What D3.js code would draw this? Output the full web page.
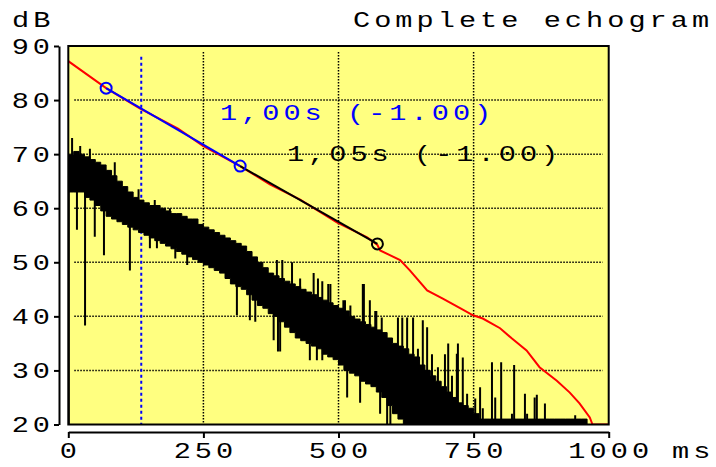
<!DOCTYPE html>
<html><head><meta charset="utf-8">
<script src="https://cdn.jsdelivr.net/npm/d3@7"></script>
<style>html,body{margin:0;padding:0;background:#fff;}svg{display:block;}</style>
</head><body>
<svg id="c" width="716" height="467"></svg>
<script>
// ---------- data ----------
const xTicks = [0, 250, 500, 750, 1000];
const yTicks = [20, 30, 40, 50, 60, 70, 80, 90];
const gridX = [250, 500, 750];
const gridY = [30, 40, 50, 60, 70, 80];
const title = "Complete echogram";
const yUnit = "dB";
const xUnit = "ms";
// echogram: dense band per 10 ms bin (upper / lower level, dB)
const bandHi = [70,70.5,70,69.5,69,68.5,68,67,66,65,64,63,62,61.5,61,60.5,60.5,60,59.5,59,
  59,58.5,58,58,57,56.5,56,55.5,55,54.5,54,53.5,53,52,51,50,49,48,47.5,47,
  46.5,46,45.5,45,44.5,44,43.5,43,42.5,42,41.5,41,40,39.5,39,38.5,38,37.5,37,36,
  35,34.5,34,33,32.5,31,30,29,28,27,26,25,24,23.5,23,22,21,21,21,21,
  21,21,21,21,21,21,21,21,21,21,21,21,21,21,21,21];
const bandLo = [63,63,63,62,61.5,60.5,59.5,58.5,58,57.5,57,56.5,56,55.5,55,54.5,54,53.5,53,52.5,
  52,51.5,51,50.5,50,49.5,49,48.5,48,47,46,45.5,45,44,43,42,41.5,40.5,40,39,
  38,37,36,35.5,35,34.5,34,33,32.5,32,31,30,29.5,29,28,27.5,27,26,25,23.5,
  22,21,20,20,20,20,20,20,20,20,20,20,20,20,20,20,20,20,20,20,
  20,20,20,20,20,20,20,20,20,20,20,20,20,20,20,20];
// individual peaks / dips of the echogram (time ms, level dB)
const spikeT  = [7,22,40,86,130,160,188,222,346,358,373,386,396,414,429,454,462,470,481,485,509,512,522,545,547,558,568,570,
  580,610,618,627,638,647,656,664,673,684,697,703,710,719,721,730,738,753,762,767,
  784,790,801,821,825,845,849,863,867,882,938,942,
  1,16,31,49,66,114,151,164,198,220,312,336,346,380,388,392,447,460,470,516,540,577,590,596];
const spikeDb = [73,71.5,71,68.5,63.5,61.5,60,58,50.4,48.5,47,50.4,50.4,50,47,48,47,46.5,46,46,43,43,42,46,46,43,41,41,
  39.8,39.8,39.8,39.8,39.8,34,39.3,38,33,30.6,33,35,29,33.1,35,32.4,25.7,24.8,26.9,23,
  31.5,25,31.5,22,31,25.7,22,25,25.5,23.9,21.7,21,
  20,56,38.3,54.7,51.3,48.5,52.6,52.6,50.7,49.5,40.2,39.3,39,35.6,33.5,33.5,31.9,31.9,31.9,25,24,22,20,20];
// Schroeder decay curve
const decayT  = [0,70,133,203,250,318,373,429,497,553,572,577,614,632,664,693,725,749,767,799,821,848,872,904,928,946,965,970,1000];
const decayDb = [87.2,82.2,78.4,74.7,71.5,67.8,64.4,61.6,57.4,54.6,53.2,52.2,50.4,48.5,44.8,43.3,41.5,40.2,39.6,37.8,35.9,33.7,30.6,28.1,25.9,23.9,21.3,20,20];
// regression fits
const fit1T = [70, 318],  fit1Db = [82.2, 67.8];
const fit2T = [318, 572], fit2Db = [67.8, 53.4];
const markT = [70, 318, 572], markDb = [82.2, 67.8, 53.4], markC = ["#0000ff","#0000ff","#000000"];
const cursorT = 135, cursorDb = [88, 20];
const labels = ["1,00s (-1.00)", "1,05s (-1.00)"];
const labelT = [280.5, 404.5], labelDb = [76.3, 68.7], labelC = ["#0000ff", "#000000"];

// ---------- drawing ----------
const svg = d3.select("#c");
const x = d3.scaleLinear().domain([0, 1000]).range([68.3, 608.7]);
const y = d3.scaleLinear().domain([20, 90]).range([424.5, 46]);
const FS = 22, LS = 3.1, SX = 1.3;

function txt(str, X, Y, anchor, color) {
  let dx = 0;
  if (anchor === "end") dx = LS * SX;
  if (anchor === "middle") dx = LS * SX / 2;
  svg.append("text")
    .attr("transform", `translate(${X + dx},${Y}) scale(${SX},1)`)
    .attr("text-anchor", anchor)
    .attr("font-family", "Liberation Mono, DejaVu Sans Mono, monospace")
    .attr("font-size", FS)
    .attr("letter-spacing", LS)
    .attr("fill", color || "#000")
    .text(str);
}

// plot background
svg.append("rect")
  .attr("x", x(0)).attr("y", y(90))
  .attr("width", x(1000) - x(0)).attr("height", y(20) - y(90))
  .attr("fill", "#ffff80");

svg.append("clipPath").attr("id", "clip").append("rect")
  .attr("x", x(0)).attr("y", y(90))
  .attr("width", x(1000) - x(0)).attr("height", y(20) - y(90));

// grid
const grid = svg.append("g").attr("stroke", "#000").attr("stroke-width", 1.5).attr("stroke-dasharray", "1.5,1.5");
grid.selectAll(".gx").data(gridX).join("line")
  .attr("x1", d => x(d)).attr("x2", d => x(d)).attr("y1", y(90) + 6).attr("y2", y(20));
grid.selectAll(".gy").data(gridY).join("line")
  .attr("y1", d => y(d)).attr("y2", d => y(d)).attr("x1", x(0) + 6).attr("x2", x(1000) - 6);

const plot = svg.append("g").attr("clip-path", "url(#clip)");

// cursor
plot.append("line")
  .attr("x1", x(cursorT)).attr("x2", x(cursorT))
  .attr("y1", y(cursorDb[0])).attr("y2", y(cursorDb[1]))
  .attr("stroke", "#0000ff").attr("stroke-width", 2).attr("stroke-dasharray", "3,3");

// echogram band
const bandPts = bandHi.map((h, i) => ({ t: i * 10, hi: h, lo: bandLo[i] }));
bandPts.push({ t: bandHi.length * 10, hi: bandHi[bandHi.length - 1], lo: bandLo[bandLo.length - 1] });
const area = d3.area().curve(d3.curveStepAfter)
  .x(d => x(d.t)).y0(d => y(d.lo)).y1(d => y(d.hi));
plot.append("path").attr("d", area(bandPts)).attr("fill", "#000")
  .attr("stroke", "#000").attr("stroke-width", 1);

// echogram spikes
function bandMid(t) {
  const i = Math.min(Math.floor(t / 10), bandHi.length - 1);
  return (bandHi[i] + bandLo[i]) / 2;
}
plot.selectAll(".sp").data(spikeT).join("line")
  .attr("x1", d => x(d)).attr("x2", d => x(d))
  .attr("y1", d => y(bandMid(d))).attr("y2", (d, i) => y(spikeDb[i]))
  .attr("stroke", "#000").attr("stroke-width", 2);

// decay curve
const line = d3.line().x(d => x(d[0])).y(d => y(d[1]));
plot.append("path").attr("d", line(decayT.map((t, i) => [t, decayDb[i]])))
  .attr("fill", "none").attr("stroke", "#ff0000").attr("stroke-width", 2);

// fits
plot.append("path").attr("d", line(fit2T.map((t, i) => [t, fit2Db[i]])))
  .attr("fill", "none").attr("stroke", "#000").attr("stroke-width", 2);
plot.append("path").attr("d", line(fit1T.map((t, i) => [t, fit1Db[i]])))
  .attr("fill", "none").attr("stroke", "#0000ff").attr("stroke-width", 2);

// markers
plot.selectAll(".mk").data(markT).join("circle")
  .attr("cx", d => x(d)).attr("cy", (d, i) => y(markDb[i])).attr("r", 5.5)
  .attr("fill", "none").attr("stroke", (d, i) => markC[i]).attr("stroke-width", 2);

// frame
svg.append("rect")
  .attr("x", x(0)).attr("y", y(90))
  .attr("width", x(1000) - x(0)).attr("height", y(20) - y(90))
  .attr("fill", "none").attr("stroke", "#000").attr("stroke-width", 2);

// axes
const yAxis = svg.append("g").attr("transform", "translate(59,0)")
  .call(d3.axisLeft(y).tickValues(yTicks).tickSize(5).tickSizeOuter(0).tickFormat(""));
const xAxis = svg.append("g").attr("transform", "translate(0,432)")
  .call(d3.axisBottom(x).tickValues(xTicks).tickSize(6).tickSizeOuter(0).tickFormat(""));
[yAxis, xAxis].forEach(a => {
  a.selectAll("path,line").attr("stroke", "#000").attr("stroke-width", 2);
});

// tick labels
yTicks.forEach(v => txt(String(v), 50, y(v) + 7.5, "end"));
xTicks.forEach(v => txt(String(v), x(v), 458, "middle"));
txt(xUnit, 672, 458, "start");
txt(yUnit, 12, 27, "start");
txt(title, 353, 27, "start");

// fit labels
labels.forEach((s, i) => txt(s, x(labelT[i]), y(labelDb[i]), "start", labelC[i]));
</script>
</body></html>
